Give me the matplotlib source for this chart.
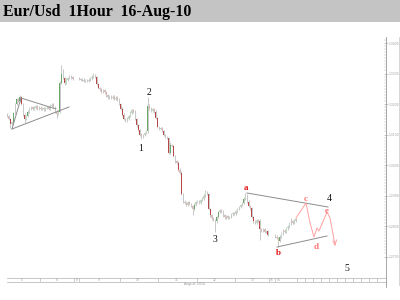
import matplotlib
matplotlib.use("Agg")
import matplotlib.pyplot as plt
from matplotlib.patches import Rectangle

# ---------------- data (hourly closes, EUR/USD) ----------------
seg1_closes = [1.3160, 1.3150, 1.3135, 1.3140, 1.3170, 1.3200, 1.3215, 1.3210, 1.3222, 1.3200,
               1.3165, 1.3150, 1.3160, 1.3175, 1.3185, 1.3190, 1.3183, 1.3188, 1.3192, 1.3185,
               1.3188, 1.3183, 1.3187, 1.3182, 1.3186, 1.3190, 1.3185, 1.3195, 1.3198, 1.3190,
               1.3175, 1.3168, 1.3175, 1.3270, 1.3300, 1.3285, 1.3270, 1.3280, 1.3285, 1.3290,
               1.3287, 1.3283]
seg2_closes = [1.3282, 1.3278, 1.3280, 1.3276, 1.3279, 1.3275, 1.3280, 1.3284, 1.3290, 1.3296,
               1.3288, 1.3265, 1.3252, 1.3248, 1.3240, 1.3245, 1.3238, 1.3228, 1.3222, 1.3225,
               1.3220, 1.3224, 1.3218, 1.3221, 1.3215, 1.3200, 1.3185, 1.3165, 1.3150, 1.3145,
               1.3152, 1.3160, 1.3172, 1.3180, 1.3175, 1.3150, 1.3130, 1.3115, 1.3100, 1.3092,
               1.3098, 1.3105, 1.3110, 1.3195, 1.3185, 1.3178, 1.3182, 1.3175, 1.3155, 1.3125,
               1.3118, 1.3122, 1.3112, 1.3098, 1.3092, 1.3088, 1.3040, 1.3065, 1.3062, 1.3030,
               1.3012, 1.3008, 1.2985, 1.2975, 1.2905, 1.2880, 1.2875, 1.2868, 1.2878, 1.2872,
               1.2865, 1.2855, 1.2870, 1.2878, 1.2880, 1.2875, 1.2885, 1.2890, 1.2900, 1.2912,
               1.2905, 1.2855, 1.2835, 1.2825, 1.2820, 1.2815, 1.2830, 1.2845, 1.2852, 1.2848,
               1.2835, 1.2828, 1.2832, 1.2826, 1.2830, 1.2838, 1.2842, 1.2840, 1.2848, 1.2855,
               1.2862, 1.2868, 1.2875, 1.2890, 1.2900, 1.2880, 1.2865, 1.2858, 1.2830, 1.2815,
               1.2810, 1.2820, 1.2818, 1.2790, 1.2785, 1.2790, 1.2780, 1.2782, 1.2770]
seg3_closes = [1.2765, 1.2760, 1.2750, 1.2765, 1.2775, 1.2785, 1.2780, 1.2792, 1.2798, 1.2808,
               1.2815, 1.2810, 1.2818, 1.2822]
first_open = 1.3165

# notable wick extremes: (segment, index) -> price
spike_highs = {(1, 8): 1.3228, (1, 34): 1.3328, (1, 35): 1.3315, (2, 9): 1.3303, (2, 43): 1.3223,
               (2, 57): 1.3075, (2, 79): 1.2918, (2, 104): 1.2908, (3, 10): 1.2826}
spike_lows = {(1, 2): 1.3121, (1, 11): 1.3138, (1, 31): 1.3155, (1, 36): 1.3262, (2, 29): 1.3140,
              (2, 39): 1.3085, (2, 71): 1.2836, (2, 85): 1.2780, (2, 113): 1.2754, (3, 2): 1.2731}

price_ticks = [1.3400, 1.3300, 1.3200, 1.3100, 1.3000, 1.2900, 1.2800, 1.2700]
day_labels = ["5", "6", "8", "9", "10", "11", "12", "13", "15", "16"]

# ---------------- layout ----------------
W, H = 400, 300
fig = plt.figure(figsize=(4, 3), dpi=100)
fig.patch.set_facecolor("white")

def rect(x, y, w, h):
    return [x / W, 1 - (y + h) / H, w / W, h / H]

# title band
fig.patches.append(Rectangle((0, 1 - 22 / H), 1, 22 / H, transform=fig.transFigure,
                             facecolor="#c4c4c4", edgecolor="none", zorder=0))
fig.text(3 / W, 1 - 11.5 / H, "Eur/Usd  1Hour  16-Aug-10", fontsize=11.4,
         fontweight="bold", family="Liberation Serif", va="center", ha="left")

# price scale: 1.34 at px 43, 0.01 per 30.5 px
px_per_price = 3050.0
ytop = 1.34 + (43 - 37) / px_per_price
ybot = 1.34 - (278 - 43) / px_per_price

ax = fig.add_axes(rect(5, 37, 381, 241))
ax.set_xlim(5, 386)
ax.set_ylim(ybot, ytop)
for s in ["left", "top", "bottom"]:
    ax.spines[s].set_visible(False)
ax.spines["right"].set_color("#9a9a9a")
ax.spines["right"].set_linewidth(0.6)
ax.set_xticks([])
ax.yaxis.tick_right()
ax.set_yticks(price_ticks)
ax.set_yticklabels(["%.4f" % v for v in price_ticks])
ax.set_yticks([1.2700 + 0.001 * k for k in range(72)], minor=True)
ax.tick_params(axis="y", which="major", direction="inout", length=3, width=0.4,
               colors="#a0a0a0", labelsize=2.2, pad=0.6)
ax.tick_params(axis="y", which="minor", direction="in", length=1.2, width=0.3, colors="#b0b0b0")
ax.patch.set_alpha(0)

# candles
segments = [(1, 7.0, seg1_closes), (2, 79.0, seg2_closes), (3, 275.0, seg3_closes)]
step = 1.6
prev = first_open
for sid, x0, closes in segments:
    for i, c in enumerate(closes):
        o = prev
        x = x0 + step * i
        hi = spike_highs.get((sid, i), max(o, c) + 0.0004)
        lo = spike_lows.get((sid, i), min(o, c) - 0.0004)
        ax.vlines(x, lo, hi, color="#c8c8c8", linewidth=0.7, zorder=2)
        if c >= o:
            col = "#6aa86a" if c - o > 0.0012 else "#c0dcc0"
        else:
            col = "#b84848" if o - c > 0.0012 else "#e0b4b4"
        ax.bar(x, max(abs(c - o), 0.00025), bottom=min(o, c), width=0.9,
               color=col, edgecolor="none", zorder=3)
        prev = c

def py(ypx):
    return 1.34 - (ypx - 43) / px_per_price

# triangle (left)
tri_col = "#8c8c8c"
ax.plot([12, 21], [py(129), py(98)], color=tri_col, lw=0.7, zorder=4)
ax.plot([21, 56], [py(98), py(109)], color=tri_col, lw=0.7, zorder=4)
ax.plot([12, 69], [py(129), py(107)], color=tri_col, lw=0.7, zorder=4)

# wave-4 triangle lines
ax.plot([247, 328], [py(193), py(207)], color=tri_col, lw=0.7, zorder=4)
ax.plot([277, 327], [py(247), py(236)], color=tri_col, lw=0.7, zorder=4)

# projected path
pink = "#ffa0a0"
path_x = [296, 306, 310, 314, 317, 319, 327, 330, 335]
path_y = [218, 203, 223, 237, 228, 231, 212, 218, 245]
ax.plot(path_x, [py(v) for v in path_y], color=pink, lw=0.7, zorder=4)
ax.plot([333, 335, 336.5], [py(241), py(245), py(240)], color=pink, lw=0.7, zorder=4)

# wave labels
black_lbls = [("1", 141, 148), ("2", 149, 92), ("3", 215, 239), ("4", 329, 198), ("5", 347, 268)]
for t, x, y in black_lbls:
    ax.text(x, py(y), t, fontsize=7, family="Liberation Serif", ha="center", va="center",
            color="#111111", zorder=5)
red_lbls = [("a", 246, 188), ("b", 278, 253), ("c", 306, 199), ("d", 316, 247), ("e", 327, 211)]
for t, x, y in red_lbls:
    ax.text(x, py(y), t, fontsize=6.5, family="Liberation Serif", fontweight="bold",
            ha="center", va="center", color="#e01010" if t in "ab" else "#ff7070", zorder=5)

# right border line
fig.add_artist(plt.Line2D([399 / W, 399 / W], [1 - 285 / H, 1 - 37 / H],
                          transform=fig.transFigure, color="#d0d0d0", lw=0.6))
fig.add_artist(plt.Line2D([386 / W, 386 / W], [1 - 287 / H, 1 - 278 / H],
                          transform=fig.transFigure, color="#9a9a9a", lw=0.6))

# time strip
axs = fig.add_axes(rect(7, 278, 379, 4))
axs.set_xlim(7, 386)
axs.set_ylim(0, 1)
axs.set_xticks([])
axs.set_yticks([])
for s in ["left", "right"]:
    axs.spines[s].set_visible(False)
for s in ["top", "bottom"]:
    axs.spines[s].set_color("#b0b0b0")
    axs.spines[s].set_linewidth(0.5)
separators = [40, 74, 79, 120, 158, 197, 235, 269, 275, 297, 305, 313, 321, 329, 337,
              345, 353, 361, 369, 377]
for sx in separators:
    axs.axvline(sx, color="#b8b8b8", lw=0.5)
label_x = [22, 57, 77, 99, 138, 177, 215, 253, 272, 279]
for t, x in zip(day_labels, label_x):
    axs.text(x, 0.5, t, fontsize=2.2, color="#999999", ha="center", va="center")
fig.text(195 / W, 1 - 284.5 / H, "August 2010", fontsize=2.4, color="#999999",
         ha="center", va="center")

fig.savefig("out.png", dpi=100)
